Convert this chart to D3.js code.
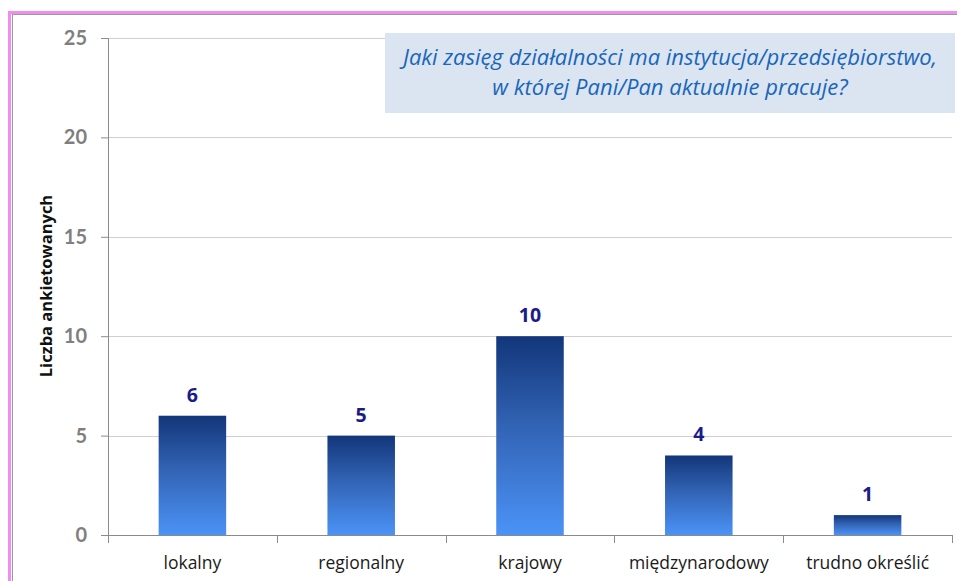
<!DOCTYPE html>
<html>
<head>
<meta charset="utf-8">
<script src="https://cdn.jsdelivr.net/npm/d3@7"></script>
<style>
  body { margin: 0; background: #fff; }
  svg { display: block; }
</style>
</head>
<body>
<svg id="chart" width="957" height="581"></svg>
<script>
const categories = ['lokalny', 'regionalny', 'krajowy', 'międzynarodowy', 'trudno określić'];
const values = [6, 5, 10, 4, 1];
const yTicks = [0, 5, 10, 15, 20, 25];
const titleLines = ['Jaki zasięg działalności ma instytucja/przedsiębiorstwo,', 'w której Pani/Pan aktualnie pracuje?'];
const yLabel = 'Liczba ankietowanych';

const svg = d3.select('#chart');
const font = '"Open Sans", Lato, sans-serif';

// frame
svg.append('rect')
    .attr('x', 9.5).attr('y', 12.5).attr('width', 960).attr('height', 600)
    .attr('fill', 'none').attr('stroke', '#f28cf0').attr('stroke-width', 3);
svg.append('rect')
    .attr('x', 12.5).attr('y', 14.5).attr('width', 960).attr('height', 600)
    .attr('fill', '#fff').attr('stroke', '#9a9a9a').attr('stroke-width', 1);

const margin = { left: 108, right: 5, top: 38, bottom: 46 };
const width = 952 - margin.left;
const height = 535 - margin.top;

const chart = svg.append('g')
    .attr('transform', `translate(${margin.left}, ${margin.top})`);

const x = d3.scaleBand()
    .domain(categories)
    .range([0, width])
    .paddingInner(0.6)
    .paddingOuter(0.3);

const y = d3.scaleLinear()
    .domain([0, 25])
    .range([height, 0]);

// gradient for bars
const grad = svg.append('defs').append('linearGradient')
    .attr('id', 'barGrad')
    .attr('x1', 0).attr('y1', 0).attr('x2', 0).attr('y2', 1);
grad.append('stop').attr('offset', '0%').attr('stop-color', '#12367a');
grad.append('stop').attr('offset', '45%').attr('stop-color', '#3263b4');
grad.append('stop').attr('offset', '100%').attr('stop-color', '#4b93f7');

// gridlines
chart.append('g')
    .selectAll('line')
    .data(yTicks.filter(d => d > 0))
    .enter()
    .append('line')
    .attr('x1', 0).attr('x2', width)
    .attr('y1', d => Math.round(y(d)) + 0.5)
    .attr('y2', d => Math.round(y(d)) + 0.5)
    .attr('stroke', '#cfcfcf');

// y axis
const yAxis = chart.append('g')
    .call(d3.axisLeft(y).tickValues(yTicks).tickSize(7).tickPadding(14));
yAxis.select('.domain').attr('stroke', '#8a8a8a');
yAxis.selectAll('.tick line').attr('stroke', '#8a8a8a');
yAxis.selectAll('.tick text')
    .attr('fill', '#7f7f7f')
    .style('font-family', 'Lato, sans-serif')
    .style('font-size', '20px')
    .style('font-weight', 'bold');

// x axis
const xAxis = chart.append('g')
    .attr('transform', `translate(0, ${height})`)
    .call(d3.axisBottom(x).tickSize(0).tickPadding(22));
xAxis.select('.domain').attr('stroke', '#8a8a8a');
xAxis.selectAll('.tick text')
    .attr('fill', '#1a1a1a')
    .style('font-family', font)
    .style('font-size', '17.5px');

// tick marks between categories
xAxis.selectAll('.sep')
    .data(d3.range(categories.length + 1))
    .enter()
    .append('line')
    .attr('class', 'sep')
    .attr('x1', i => Math.round(i * x.step()) + 0.5)
    .attr('x2', i => Math.round(i * x.step()) + 0.5)
    .attr('y1', 0).attr('y2', 8)
    .attr('stroke', '#8a8a8a');

// bars
const barGroups = chart.selectAll('.barg')
    .data(values)
    .enter()
    .append('g')
    .attr('class', 'barg');

barGroups.append('rect')
    .attr('x', (d, i) => x(categories[i]))
    .attr('y', d => y(d))
    .attr('width', x.bandwidth())
    .attr('height', d => height - y(d))
    .attr('fill', 'url(#barGrad)');

barGroups.append('text')
    .attr('x', (d, i) => x(categories[i]) + x.bandwidth() / 2)
    .attr('y', d => y(d) - 14)
    .attr('text-anchor', 'middle')
    .attr('fill', '#1b1b8a')
    .style('font-family', font)
    .style('font-size', '19.5px')
    .style('font-weight', 'bold')
    .text(d => d);

// y label
svg.append('text')
    .attr('transform', 'translate(52, 286) rotate(-90)')
    .attr('text-anchor', 'middle')
    .attr('fill', '#111')
    .style('font-family', font)
    .style('font-size', '16.5px')
    .style('font-weight', 'bold')
    .text(yLabel);

// title box
svg.append('rect')
    .attr('x', 385).attr('y', 33).attr('width', 570).attr('height', 80)
    .attr('fill', '#dbe5f1');

svg.selectAll('.title')
    .data(titleLines)
    .enter()
    .append('text')
    .attr('class', 'title')
    .attr('x', 670)
    .attr('y', (d, i) => 65 + i * 30)
    .attr('text-anchor', 'middle')
    .attr('fill', '#1a66b8')
    .style('font-family', font)
    .style('font-size', '22px')
    .style('font-style', 'italic')
    .text(d => d);
</script>
</body>
</html>
